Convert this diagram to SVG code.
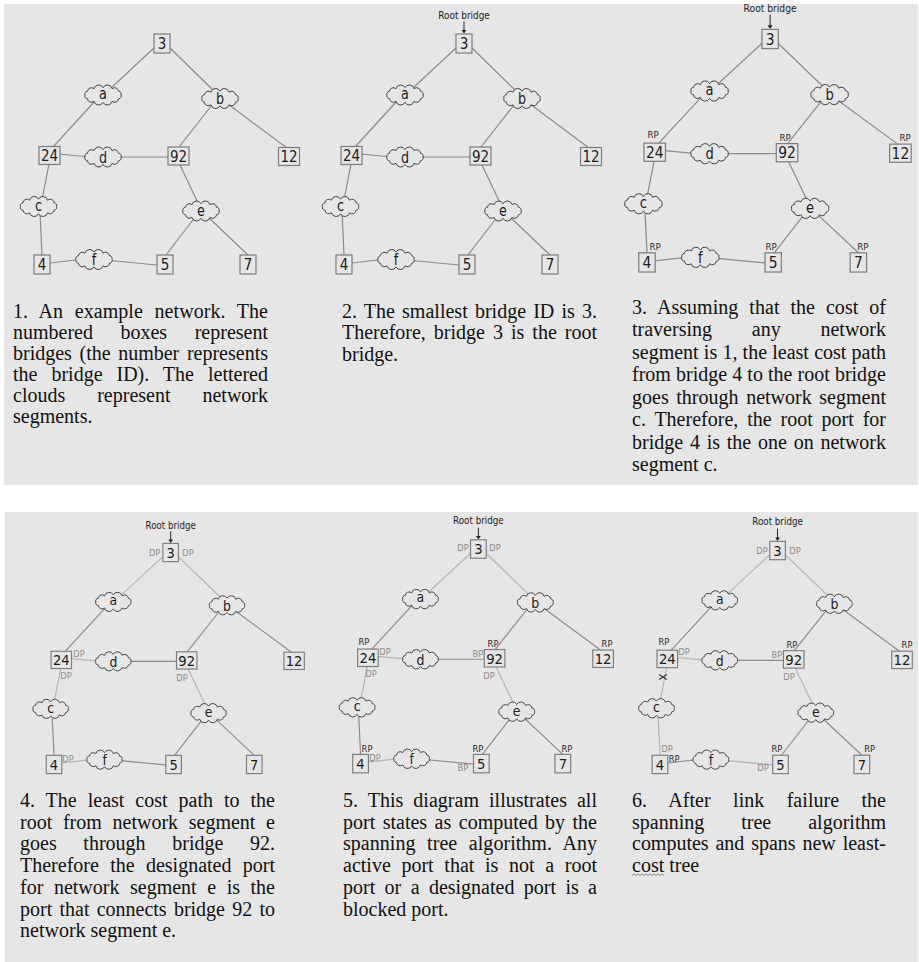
<svg xmlns="http://www.w3.org/2000/svg" xmlns:xlink="http://www.w3.org/1999/xlink" width="919" height="962" viewBox="0 0 919 962">
<style>
.bg{fill:#e6e6e6}
.conn line{stroke:#8c8c8c;stroke-width:1.2}
.conn line.lt{stroke:#b4b4b4}
.bridge rect{fill:#e6e6e6;stroke:#7d7d7d;stroke-width:1.2}
.cloud{fill:#e6e6e6;stroke:#333;stroke-width:0.9}
.num,.seg,.rb,.rp,.dp{font-family:"DejaVu Sans",sans-serif;text-anchor:middle}
.num{font-size:15px;fill:#1c1c1c}
.seg{font-size:15px;fill:#1c1c1c}
.rb{font-size:10.5px;fill:#222}
.rp{font-size:8.5px;fill:#2a2a2a}
.dp{font-size:8.5px;fill:#8c8c8c}
.arrow{stroke:#222;stroke-width:1}
.arrowhead{fill:#222}
.xmark{stroke:#333;stroke-width:1.1;fill:none}
.cap{font-family:"Liberation Serif","Times New Roman",serif;font-size:20px;fill:#111}
.squig{fill:none;stroke:#7a7a8a;stroke-width:0.8}
</style>
<defs>
<path id="cloud" d="M18,0 A2.6,2.6 0 0 1 15.59,3.65 A4,4 0 0 1 9,6.32 A4.8,4.8 0 0 1 0,7.3 A4.8,4.8 0 0 1 -9,6.32 A4,4 0 0 1 -15.59,3.65 A2.6,2.6 0 0 1 -18,0 A2.6,2.6 0 0 1 -15.59,-3.65 A4,4 0 0 1 -9,-6.32 A4.8,4.8 0 0 1 0,-7.3 A4.8,4.8 0 0 1 9,-6.32 A4,4 0 0 1 15.59,-3.65 A2.6,2.6 0 0 1 18,0 Z"/>
</defs>
<rect class="bg" x="4" y="4" width="914" height="481"/>
<rect class="bg" x="5" y="512" width="913" height="450"/>

<!-- Diagram 1 -->
<g id="diagram1">
<g id="d1-connectors" class="conn">
<line x1="156" y1="46" x2="110" y2="89"/><line x1="95" y1="101" x2="53" y2="147"/><line x1="168" y1="46" x2="215" y2="92"/><line x1="212" y1="105" x2="179" y2="147"/><line x1="228" y1="104" x2="287" y2="148"/><line x1="59" y1="154" x2="90" y2="157"/><line x1="115" y1="157" x2="169" y2="157"/><line x1="49" y1="164" x2="42" y2="200"/><line x1="40" y1="212" x2="42" y2="255"/><line x1="180" y1="165" x2="199" y2="205"/><line x1="196" y1="216" x2="166" y2="255"/><line x1="207" y1="216" x2="248" y2="255"/><line x1="50" y1="263" x2="84" y2="259"/><line x1="105" y1="260" x2="157" y2="265"/>
</g>
<g id="d1-bridge-3" class="bridge"><rect x="154" y="34" width="16" height="19"/><text class="num" transform="translate(162,49) scale(0.9,1)">3</text></g>
<g id="d1-seg-a"><use href="#cloud" class="cloud" x="103" y="95"/><text class="seg" transform="translate(103,98.5) scale(0.85,1)">a</text></g>
<g id="d1-seg-b"><use href="#cloud" class="cloud" x="220" y="98.5"/><text class="seg" transform="translate(220,104) scale(0.85,1)">b</text></g>
<g id="d1-bridge-24" class="bridge"><rect x="39" y="146.5" width="21" height="18"/><text class="num" transform="translate(49.5,161) scale(0.9,1)">24</text></g>
<g id="d1-seg-d"><use href="#cloud" class="cloud" x="103" y="157"/><text class="seg" transform="translate(103,162.5) scale(0.85,1)">d</text></g>
<g id="d1-bridge-92" class="bridge"><rect x="168" y="147" width="21" height="18"/><text class="num" transform="translate(178.5,161.5) scale(0.9,1)">92</text></g>
<g id="d1-bridge-12" class="bridge"><rect x="278.5" y="147.5" width="21" height="18"/><text class="num" transform="translate(289,162) scale(0.9,1)">12</text></g>
<g id="d1-seg-c"><use href="#cloud" class="cloud" x="38.5" y="206.5"/><text class="seg" transform="translate(38.5,210.5) scale(0.85,1)">c</text></g>
<g id="d1-seg-e"><use href="#cloud" class="cloud" x="201" y="211"/><text class="seg" transform="translate(201,215.5) scale(0.85,1)">e</text></g>
<g id="d1-bridge-4" class="bridge"><rect x="34" y="255" width="16" height="19"/><text class="num" transform="translate(42,270) scale(0.9,1)">4</text></g>
<g id="d1-seg-f"><use href="#cloud" class="cloud" x="94" y="259.5"/><text class="seg" transform="translate(94,265) scale(0.85,1)">f</text></g>
<g id="d1-bridge-5" class="bridge"><rect x="157" y="255" width="16" height="19"/><text class="num" transform="translate(165,270) scale(0.9,1)">5</text></g>
<g id="d1-bridge-7" class="bridge"><rect x="240" y="255" width="16" height="19"/><text class="num" transform="translate(248,270) scale(0.9,1)">7</text></g>
</g>

<!-- Diagram 2 -->
<g id="diagram2" transform="translate(302,0)">
<g id="d2-connectors" class="conn">
<line x1="156" y1="46" x2="110" y2="89"/><line x1="95" y1="101" x2="53" y2="147"/><line x1="168" y1="46" x2="215" y2="92"/><line x1="212" y1="105" x2="179" y2="147"/><line x1="228" y1="104" x2="287" y2="148"/><line x1="59" y1="154" x2="90" y2="157"/><line x1="115" y1="157" x2="169" y2="157"/><line x1="49" y1="164" x2="42" y2="200"/><line x1="40" y1="212" x2="42" y2="255"/><line x1="180" y1="165" x2="199" y2="205"/><line x1="196" y1="216" x2="166" y2="255"/><line x1="207" y1="216" x2="248" y2="255"/><line x1="50" y1="263" x2="84" y2="259"/><line x1="105" y1="260" x2="157" y2="265"/>
</g>
<g id="d2-root-label"><text class="rb" transform="translate(162,18.5) scale(0.85,1)">Root bridge</text><line class="arrow" x1="162" y1="21.5" x2="162" y2="30.5"/><path class="arrowhead" d="M159.6,30 L164.4,30 L162,33.6 Z"/></g>
<g id="d2-bridge-3" class="bridge"><rect x="154" y="34" width="16" height="19"/><text class="num" transform="translate(162,49) scale(0.9,1)">3</text></g>
<g id="d2-seg-a"><use href="#cloud" class="cloud" x="103" y="95"/><text class="seg" transform="translate(103,98.5) scale(0.85,1)">a</text></g>
<g id="d2-seg-b"><use href="#cloud" class="cloud" x="220" y="98.5"/><text class="seg" transform="translate(220,104) scale(0.85,1)">b</text></g>
<g id="d2-bridge-24" class="bridge"><rect x="39" y="146.5" width="21" height="18"/><text class="num" transform="translate(49.5,161) scale(0.9,1)">24</text></g>
<g id="d2-seg-d"><use href="#cloud" class="cloud" x="103" y="157"/><text class="seg" transform="translate(103,162.5) scale(0.85,1)">d</text></g>
<g id="d2-bridge-92" class="bridge"><rect x="168" y="147" width="21" height="18"/><text class="num" transform="translate(178.5,161.5) scale(0.9,1)">92</text></g>
<g id="d2-bridge-12" class="bridge"><rect x="278.5" y="147.5" width="21" height="18"/><text class="num" transform="translate(289,162) scale(0.9,1)">12</text></g>
<g id="d2-seg-c"><use href="#cloud" class="cloud" x="38.5" y="206.5"/><text class="seg" transform="translate(38.5,210.5) scale(0.85,1)">c</text></g>
<g id="d2-seg-e"><use href="#cloud" class="cloud" x="201" y="211"/><text class="seg" transform="translate(201,215.5) scale(0.85,1)">e</text></g>
<g id="d2-bridge-4" class="bridge"><rect x="34" y="255" width="16" height="19"/><text class="num" transform="translate(42,270) scale(0.9,1)">4</text></g>
<g id="d2-seg-f"><use href="#cloud" class="cloud" x="94" y="259.5"/><text class="seg" transform="translate(94,265) scale(0.85,1)">f</text></g>
<g id="d2-bridge-5" class="bridge"><rect x="157" y="255" width="16" height="19"/><text class="num" transform="translate(165,270) scale(0.9,1)">5</text></g>
<g id="d2-bridge-7" class="bridge"><rect x="240" y="255" width="16" height="19"/><text class="num" transform="translate(248,270) scale(0.9,1)">7</text></g>
</g>

<!-- Diagram 3 -->
<g id="diagram3" transform="matrix(1.026,0,0,1.011,603.9,-5)">
<g id="d3-connectors" class="conn">
<line x1="156" y1="46" x2="110" y2="89"/><line x1="95" y1="101" x2="53" y2="147"/><line x1="168" y1="46" x2="215" y2="92"/><line x1="212" y1="105" x2="179" y2="147"/><line x1="228" y1="104" x2="287" y2="148"/><line x1="59" y1="154" x2="90" y2="157"/><line x1="115" y1="157" x2="169" y2="157"/><line x1="49" y1="164" x2="42" y2="200"/><line x1="40" y1="212" x2="42" y2="255"/><line x1="180" y1="165" x2="199" y2="205"/><line x1="196" y1="216" x2="166" y2="255"/><line x1="207" y1="216" x2="248" y2="255"/><line x1="50" y1="263" x2="84" y2="259"/><line x1="105" y1="260" x2="157" y2="265"/>
</g>
<g id="d3-root-label"><text class="rb" transform="translate(162,16.5) scale(0.85,1)">Root bridge</text><line class="arrow" x1="162" y1="19.5" x2="162" y2="30.5"/><path class="arrowhead" d="M159.6,30 L164.4,30 L162,33.6 Z"/></g>
<g id="d3-bridge-3" class="bridge"><rect x="154" y="34" width="16" height="19"/><text class="num" transform="translate(162,49) scale(0.9,1)">3</text></g>
<g id="d3-seg-a"><use href="#cloud" class="cloud" x="103" y="95"/><text class="seg" transform="translate(103,98.5) scale(0.85,1)">a</text></g>
<g id="d3-seg-b"><use href="#cloud" class="cloud" x="220" y="98.5"/><text class="seg" transform="translate(220,104) scale(0.85,1)">b</text></g>
<g id="d3-bridge-24" class="bridge"><rect x="39" y="146.5" width="21" height="18"/><text class="num" transform="translate(49.5,161) scale(0.9,1)">24</text><text class="rp" x="48" y="141">RP</text></g>
<g id="d3-seg-d"><use href="#cloud" class="cloud" x="103" y="157"/><text class="seg" transform="translate(103,162.5) scale(0.85,1)">d</text></g>
<g id="d3-bridge-92" class="bridge"><rect x="168" y="147" width="21" height="18"/><text class="num" transform="translate(178.5,161.5) scale(0.9,1)">92</text><text class="rp" x="176.7" y="144">RP</text></g>
<g id="d3-bridge-12" class="bridge"><rect x="278.5" y="147.5" width="21" height="18"/><text class="num" transform="translate(289,162) scale(0.9,1)">12</text><text class="rp" x="293.5" y="144">RP</text></g>
<g id="d3-seg-c"><use href="#cloud" class="cloud" x="38.5" y="206.5"/><text class="seg" transform="translate(38.5,210.5) scale(0.85,1)">c</text></g>
<g id="d3-seg-e"><use href="#cloud" class="cloud" x="201" y="211"/><text class="seg" transform="translate(201,215.5) scale(0.85,1)">e</text></g>
<g id="d3-bridge-4" class="bridge"><rect x="34" y="255" width="16" height="19"/><text class="num" transform="translate(42,270) scale(0.9,1)">4</text><text class="rp" x="50" y="252.5">RP</text></g>
<g id="d3-seg-f"><use href="#cloud" class="cloud" x="94" y="259.5"/><text class="seg" transform="translate(94,265) scale(0.85,1)">f</text></g>
<g id="d3-bridge-5" class="bridge"><rect x="157" y="255" width="16" height="19"/><text class="num" transform="translate(165,270) scale(0.9,1)">5</text><text class="rp" x="163" y="252.5">RP</text></g>
<g id="d3-bridge-7" class="bridge"><rect x="240" y="255" width="16" height="19"/><text class="num" transform="translate(248,270) scale(0.9,1)">7</text><text class="rp" x="252.5" y="252.5">RP</text></g>
</g>

<!-- Diagram 4 -->
<g id="diagram4" transform="matrix(0.972,0,0,0.959,13.2,510.8)">
<g id="d4-connectors" class="conn">
<line class="lt" x1="156" y1="46" x2="110" y2="89"/><line x1="95" y1="101" x2="53" y2="147"/><line class="lt" x1="168" y1="46" x2="215" y2="92"/><line x1="212" y1="105" x2="179" y2="147"/><line x1="228" y1="104" x2="287" y2="148"/><line class="lt" x1="59" y1="154" x2="90" y2="157"/><line x1="115" y1="157" x2="169" y2="157"/><line class="lt" x1="49" y1="164" x2="42" y2="200"/><line x1="40" y1="212" x2="42" y2="255"/><line class="lt" x1="180" y1="165" x2="199" y2="205"/><line x1="196" y1="216" x2="166" y2="255"/><line x1="207" y1="216" x2="248" y2="255"/><line class="lt" x1="50" y1="263" x2="84" y2="259"/><line x1="105" y1="260" x2="157" y2="265"/>
</g>
<g id="d4-root-label"><text class="rb" transform="translate(162,18.5) scale(0.85,1)">Root bridge</text><line class="arrow" x1="162" y1="21.5" x2="162" y2="30.5"/><path class="arrowhead" d="M159.6,30 L164.4,30 L162,33.6 Z"/></g>
<g id="d4-bridge-3" class="bridge"><rect x="154" y="34" width="16" height="19"/><text class="num" transform="translate(162,49) scale(0.9,1)">3</text><text class="dp" x="145.5" y="47.3">DP</text><text class="dp" x="179.8" y="47.3">DP</text></g>
<g id="d4-seg-a"><use href="#cloud" class="cloud" x="103" y="95"/><text class="seg" transform="translate(103,98.5) scale(0.85,1)">a</text></g>
<g id="d4-seg-b"><use href="#cloud" class="cloud" x="220" y="98.5"/><text class="seg" transform="translate(220,104) scale(0.85,1)">b</text></g>
<g id="d4-bridge-24" class="bridge"><rect x="39" y="146.5" width="21" height="18"/><text class="num" transform="translate(49.5,161) scale(0.9,1)">24</text><text class="dp" x="67.7" y="152.6">DP</text><text class="dp" x="54.3" y="175.6">DP</text></g>
<g id="d4-seg-d"><use href="#cloud" class="cloud" x="103" y="157"/><text class="seg" transform="translate(103,162.5) scale(0.85,1)">d</text></g>
<g id="d4-bridge-92" class="bridge"><rect x="168" y="147" width="21" height="18"/><text class="num" transform="translate(178.5,161.5) scale(0.9,1)">92</text><text class="dp" x="173.7" y="177.7">DP</text></g>
<g id="d4-bridge-12" class="bridge"><rect x="278.5" y="147.5" width="21" height="18"/><text class="num" transform="translate(289,162) scale(0.9,1)">12</text></g>
<g id="d4-seg-c"><use href="#cloud" class="cloud" x="38.5" y="206.5"/><text class="seg" transform="translate(38.5,210.5) scale(0.85,1)">c</text></g>
<g id="d4-seg-e"><use href="#cloud" class="cloud" x="201" y="211"/><text class="seg" transform="translate(201,215.5) scale(0.85,1)">e</text></g>
<g id="d4-bridge-4" class="bridge"><rect x="34" y="255" width="16" height="19"/><text class="num" transform="translate(42,270) scale(0.9,1)">4</text><text class="dp" x="56.4" y="262">DP</text></g>
<g id="d4-seg-f"><use href="#cloud" class="cloud" x="94" y="259.5"/><text class="seg" transform="translate(94,265) scale(0.85,1)">f</text></g>
<g id="d4-bridge-5" class="bridge"><rect x="157" y="255" width="16" height="19"/><text class="num" transform="translate(165,270) scale(0.9,1)">5</text></g>
<g id="d4-bridge-7" class="bridge"><rect x="240" y="255" width="16" height="19"/><text class="num" transform="translate(248,270) scale(0.9,1)">7</text></g>
</g>

<!-- Diagram 5 -->
<g id="diagram5" transform="matrix(0.982,0,0,0.971,319.3,506.8)">
<g id="d5-connectors" class="conn">
<line class="lt" x1="156" y1="46" x2="110" y2="89"/><line x1="95" y1="101" x2="53" y2="147"/><line class="lt" x1="168" y1="46" x2="215" y2="92"/><line x1="212" y1="105" x2="179" y2="147"/><line x1="228" y1="104" x2="287" y2="148"/><line class="lt" x1="59" y1="154" x2="90" y2="157"/><line x1="115" y1="157" x2="169" y2="157"/><line class="lt" x1="49" y1="164" x2="42" y2="200"/><line x1="40" y1="212" x2="42" y2="255"/><line class="lt" x1="180" y1="165" x2="199" y2="205"/><line x1="196" y1="216" x2="166" y2="255"/><line x1="207" y1="216" x2="248" y2="255"/><line class="lt" x1="50" y1="263" x2="84" y2="259"/><line x1="105" y1="260" x2="157" y2="265"/>
</g>
<g id="d5-root-label"><text class="rb" transform="translate(162,18.2) scale(0.85,1)">Root bridge</text><line class="arrow" x1="162" y1="21.5" x2="162" y2="30.5"/><path class="arrowhead" d="M159.6,30 L164.4,30 L162,33.6 Z"/></g>
<g id="d5-bridge-3" class="bridge"><rect x="154" y="34" width="16" height="19"/><text class="num" transform="translate(162,49) scale(0.9,1)">3</text><text class="dp" x="146.3" y="45.7">DP</text><text class="dp" x="178.9" y="45.7">DP</text></g>
<g id="d5-seg-a"><use href="#cloud" class="cloud" x="103" y="95"/><text class="seg" transform="translate(103,98.5) scale(0.85,1)">a</text></g>
<g id="d5-seg-b"><use href="#cloud" class="cloud" x="220" y="98.5"/><text class="seg" transform="translate(220,104) scale(0.85,1)">b</text></g>
<g id="d5-bridge-24" class="bridge"><rect x="39" y="146.5" width="21" height="18"/><text class="num" transform="translate(49.5,161) scale(0.9,1)">24</text><text class="rp" x="45.5" y="142.5">RP</text><text class="dp" x="66.9" y="152.8">DP</text><text class="dp" x="52.6" y="175.5">DP</text></g>
<g id="d5-seg-d"><use href="#cloud" class="cloud" x="103" y="157"/><text class="seg" transform="translate(103,162.5) scale(0.85,1)">d</text></g>
<g id="d5-bridge-92" class="bridge"><rect x="168" y="147" width="21" height="18"/><text class="num" transform="translate(178.5,161.5) scale(0.9,1)">92</text><text class="rp" x="176.9" y="144.6">RP</text><text class="dp" x="161.6" y="154.9">BP</text><text class="dp" x="172.8" y="177.6">DP</text></g>
<g id="d5-bridge-12" class="bridge"><rect x="278.5" y="147.5" width="21" height="18"/><text class="num" transform="translate(289,162) scale(0.9,1)">12</text><text class="rp" x="293" y="144.6">RP</text></g>
<g id="d5-seg-c"><use href="#cloud" class="cloud" x="38.5" y="206.5"/><text class="seg" transform="translate(38.5,210.5) scale(0.85,1)">c</text></g>
<g id="d5-seg-e"><use href="#cloud" class="cloud" x="201" y="211"/><text class="seg" transform="translate(201,215.5) scale(0.85,1)">e</text></g>
<g id="d5-bridge-4" class="bridge"><rect x="34" y="255" width="16" height="19"/><text class="num" transform="translate(42,270) scale(0.9,1)">4</text><text class="rp" x="48.6" y="252.7">RP</text><text class="dp" x="56.7" y="262">DP</text></g>
<g id="d5-seg-f"><use href="#cloud" class="cloud" x="94" y="259.5"/><text class="seg" transform="translate(94,265) scale(0.85,1)">f</text></g>
<g id="d5-bridge-5" class="bridge"><rect x="157" y="255" width="16" height="19"/><text class="num" transform="translate(165,270) scale(0.9,1)">5</text><text class="rp" x="161.6" y="252.7">RP</text><text class="dp" x="146.3" y="272.2">BP</text></g>
<g id="d5-bridge-7" class="bridge"><rect x="240" y="255" width="16" height="19"/><text class="num" transform="translate(248,270) scale(0.9,1)">7</text><text class="rp" x="252.2" y="252.7">RP</text></g>
</g>

<!-- Diagram 6 -->
<g id="diagram6" transform="matrix(0.98,0,0,0.968,618.8,508.4)">
<g id="d6-connectors" class="conn">
<line class="lt" x1="156" y1="46" x2="110" y2="89"/><line x1="95" y1="101" x2="53" y2="147"/><line class="lt" x1="168" y1="46" x2="215" y2="92"/><line x1="212" y1="105" x2="179" y2="147"/><line x1="228" y1="104" x2="287" y2="148"/><line class="lt" x1="59" y1="154" x2="90" y2="157"/><line x1="115" y1="157" x2="169" y2="157"/><line class="lt" x1="49" y1="164" x2="42" y2="200"/><line class="lt" x1="40" y1="212" x2="42" y2="255"/><line class="lt" x1="180" y1="165" x2="199" y2="205"/><line x1="196" y1="216" x2="166" y2="255"/><line x1="207" y1="216" x2="248" y2="255"/><line x1="50" y1="263" x2="84" y2="259"/><line class="lt" x1="105" y1="260" x2="157" y2="265"/>
<path class="xmark" d="M41.2,171.6 L49,176.8 M41.2,176.8 L49,171.6"/>
</g>
<g id="d6-root-label"><text class="rb" transform="translate(162,17.5) scale(0.85,1)">Root bridge</text><line class="arrow" x1="162" y1="21" x2="162" y2="30.5"/><path class="arrowhead" d="M159.6,30 L164.4,30 L162,33.6 Z"/></g>
<g id="d6-bridge-3" class="bridge"><rect x="154" y="34" width="16" height="19"/><text class="num" transform="translate(162,49) scale(0.9,1)">3</text><text class="dp" x="146.1" y="46.7">DP</text><text class="dp" x="179.8" y="46.7">DP</text></g>
<g id="d6-seg-a"><use href="#cloud" class="cloud" x="103" y="95"/><text class="seg" transform="translate(103,98.5) scale(0.85,1)">a</text></g>
<g id="d6-seg-b"><use href="#cloud" class="cloud" x="220" y="98.5"/><text class="seg" transform="translate(220,104) scale(0.85,1)">b</text></g>
<g id="d6-bridge-24" class="bridge"><rect x="39" y="146.5" width="21" height="18"/><text class="num" transform="translate(49.5,161) scale(0.9,1)">24</text><text class="rp" x="46.1" y="141.3">RP</text><text class="dp" x="66.5" y="151.6">DP</text></g>
<g id="d6-seg-d"><use href="#cloud" class="cloud" x="103" y="157"/><text class="seg" transform="translate(103,162.5) scale(0.85,1)">d</text></g>
<g id="d6-bridge-92" class="bridge"><rect x="168" y="147" width="21" height="18"/><text class="num" transform="translate(178.5,161.5) scale(0.9,1)">92</text><text class="rp" x="176.7" y="144.4">RP</text><text class="dp" x="161.4" y="154.7">BP</text><text class="dp" x="173.7" y="177.5">DP</text></g>
<g id="d6-bridge-12" class="bridge"><rect x="278.5" y="147.5" width="21" height="18"/><text class="num" transform="translate(289,162) scale(0.9,1)">12</text><text class="rp" x="294.1" y="144.4">RP</text></g>
<g id="d6-seg-c"><use href="#cloud" class="cloud" x="38.5" y="206.5"/><text class="seg" transform="translate(38.5,210.5) scale(0.85,1)">c</text></g>
<g id="d6-seg-e"><use href="#cloud" class="cloud" x="201" y="211"/><text class="seg" transform="translate(201,215.5) scale(0.85,1)">e</text></g>
<g id="d6-bridge-4" class="bridge"><rect x="34" y="255" width="16" height="19"/><text class="num" transform="translate(42,270) scale(0.9,1)">4</text><text class="dp" x="49.2" y="251.8">DP</text><text class="rp" x="56.5" y="262.2">RP</text></g>
<g id="d6-seg-f"><use href="#cloud" class="cloud" x="94" y="259.5"/><text class="seg" transform="translate(94,265) scale(0.85,1)">f</text></g>
<g id="d6-bridge-5" class="bridge"><rect x="157" y="255" width="16" height="19"/><text class="num" transform="translate(165,270) scale(0.9,1)">5</text><text class="rp" x="161.4" y="251.8">RP</text><text class="dp" x="147.1" y="271.7">DP</text></g>
<g id="d6-bridge-7" class="bridge"><rect x="240" y="255" width="16" height="19"/><text class="num" transform="translate(248,270) scale(0.9,1)">7</text><text class="rp" x="256" y="251.8">RP</text></g>
</g>

<!-- Captions -->
<g id="caption1" class="cap">
<text x="13" y="317.5" textLength="255" lengthAdjust="spacing" style="word-spacing:6.54px">1. An example network. The</text>
<text x="13" y="338.5" textLength="255" lengthAdjust="spacing" style="word-spacing:22.53px">numbered boxes represent</text>
<text x="13" y="359.5" textLength="255" lengthAdjust="spacing" style="word-spacing:2.61px">bridges (the number represents</text>
<text x="13" y="380.5" textLength="255" lengthAdjust="spacing" style="word-spacing:8.9px">the bridge ID). The lettered</text>
<text x="13" y="401.5" textLength="255" lengthAdjust="spacing" style="word-spacing:26.97px">clouds represent network</text>
<text x="13" y="422.5">segments.</text>
</g>
<g id="caption2" class="cap">
<text x="342" y="317.5" textLength="255" lengthAdjust="spacing" style="word-spacing:2.13px">2. The smallest bridge ID is 3.</text>
<text x="342" y="339" textLength="255" lengthAdjust="spacing" style="word-spacing:3.01px">Therefore, bridge 3 is the root</text>
<text x="342" y="360.5">bridge.</text>
</g>
<g id="caption3" class="cap">
<text x="632" y="313.5" textLength="254" lengthAdjust="spacing" style="word-spacing:5.91px">3. Assuming that the cost of</text>
<text x="632" y="336" textLength="254" lengthAdjust="spacing" style="word-spacing:34.8px">traversing any network</text>
<text x="632" y="358.5" textLength="254" lengthAdjust="spacing" style="word-spacing:0.21px">segment is 1, the least cost path</text>
<text x="632" y="381" textLength="254" lengthAdjust="spacing" style="word-spacing:0.12px">from bridge 4 to the root bridge</text>
<text x="632" y="403.5" textLength="254" lengthAdjust="spacing" style="word-spacing:2.64px">goes through network segment</text>
<text x="632" y="426" textLength="254" lengthAdjust="spacing" style="word-spacing:3.82px">c. Therefore, the root port for</text>
<text x="632" y="448.5" textLength="254" lengthAdjust="spacing" style="word-spacing:1.78px">bridge 4 is the one on network</text>
<text x="632" y="471">segment c.</text>
</g>
<g id="caption4" class="cap">
<text x="20" y="807" textLength="255" lengthAdjust="spacing" style="word-spacing:5.93px">4. The least cost path to the</text>
<text x="20" y="828.7" textLength="255" lengthAdjust="spacing" style="word-spacing:5.7px">root from network segment e</text>
<text x="20" y="850.4" textLength="255" lengthAdjust="spacing" style="word-spacing:21.67px">goes through bridge 92.</text>
<text x="20" y="872.1" textLength="255" lengthAdjust="spacing" style="word-spacing:6.32px">Therefore the designated port</text>
<text x="20" y="893.8" textLength="255" lengthAdjust="spacing" style="word-spacing:5.56px">for network segment e is the</text>
<text x="20" y="915.5" textLength="255" lengthAdjust="spacing" style="word-spacing:2.23px">port that connects bridge 92 to</text>
<text x="20" y="937.2">network segment e.</text>
</g>
<g id="caption5" class="cap">
<text x="343" y="807" textLength="254" lengthAdjust="spacing" style="word-spacing:5.03px">5. This diagram illustrates all</text>
<text x="343" y="828.7" textLength="254" lengthAdjust="spacing" style="word-spacing:2.47px">port states as computed by the</text>
<text x="343" y="850.4" textLength="254" lengthAdjust="spacing" style="word-spacing:6.53px">spanning tree algorithm. Any</text>
<text x="343" y="872.1" textLength="254" lengthAdjust="spacing" style="word-spacing:5.67px">active port that is not a root</text>
<text x="343" y="893.8" textLength="254" lengthAdjust="spacing" style="word-spacing:4.38px">port or a designated port is a</text>
<text x="343" y="915.5">blocked port.</text>
</g>
<g id="caption6" class="cap">
<text x="632" y="807" textLength="254" lengthAdjust="spacing" style="word-spacing:17.26px">6. After link failure the</text>
<text x="632" y="828.7" textLength="254" lengthAdjust="spacing" style="word-spacing:32px">spanning tree algorithm</text>
<text x="632" y="850.4" textLength="254" lengthAdjust="spacing" style="word-spacing:1.85px">computes and spans new least-</text>
<text x="632" y="872.1">cost tree</text>
<path class="squig" d="M632,875.5 l2,-1.5 l2,1.5 l2,-1.5 l2,1.5 l2,-1.5 l2,1.5 l2,-1.5 l2,1.5 l2,-1.5 l2,1.5 l2,-1.5 l2,1.5 l2,-1.5 l2,1.5 l2,-1.5 l2,1.5"/>
</g>
</svg>
